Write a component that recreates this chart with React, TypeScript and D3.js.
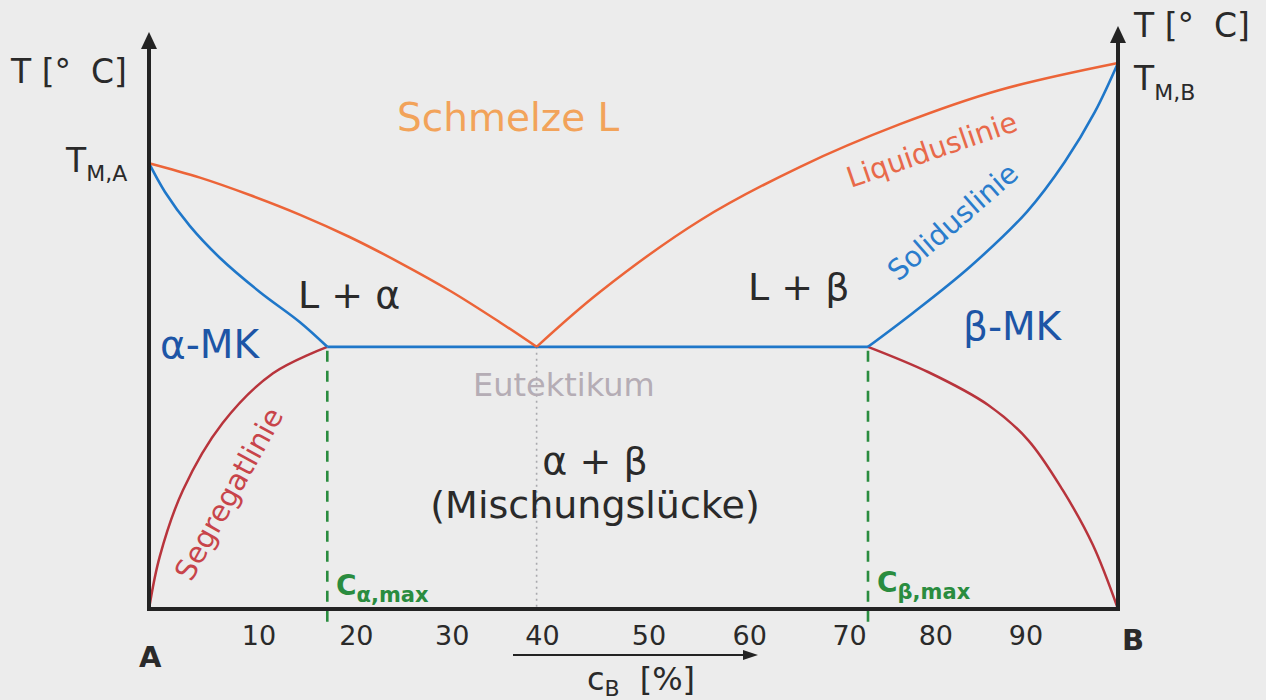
import React from 'react';
import * as d3 from 'd3';

// Binary eutectic phase diagram (schematic), composition c_B in %, temperature in arbitrary units.
const liquidusA_c = [0, 5.26, 10.4, 15.6, 20.7, 25.9, 31.1, 36.2, 40];
const liquidusA_T = [743, 719, 690, 657, 620, 577, 530, 478, 437];
const liquidusB_c = [40, 46.5, 56.9, 67.2, 77.5, 87.8, 100];
const liquidusB_T = [437, 528, 648, 737, 808, 865, 910];
const solidusA_c = [0, 1.65, 4.23, 7.33, 11.46, 15.58, 18.4];
const solidusA_T = [743, 695, 638, 585, 528, 478, 437];
const solidusB_c = [74.2, 78.8, 84.7, 90.6, 94.5, 97.6, 100];
const solidusB_T = [437, 493, 570, 662, 745, 828, 910];
const solvusA_c = [0, 1.1, 3.5, 7.6, 12.8, 18.4];
const solvusA_T = [0, 87, 198, 310, 393, 437];
const solvusB_c = [74.2, 80.4, 86.6, 90.7, 94.3, 97.4, 100];
const solvusB_T = [437, 395, 340, 282, 198, 107, 0];

const eutecticT = 437;
const eutecticC = 40;
const cAlphaMax = 18.4;
const cBetaMax = 74.2;

const tickLabels = ['10', '20', '30', '40', '50', '60', '70', '80', '90'];
// compositions at which the hand-set tick labels sit
const tickAt = [11.35, 21.4, 31.3, 40.6, 51.6, 62, 72.3, 81.2, 90.5];

const W = 1266;
const H = 700;
const FONT = '"DejaVu Sans", Verdana, sans-serif';

const x = d3.scaleLinear().domain([0, 100]).range([149, 1118]);
const y = d3.scaleLinear().domain([0, 1000]).range([609, 9]);

const zip = (cs: number[], ts: number[]) => cs.map((c, i) => [c, ts[i]] as [number, number]);
const line = d3
  .line<[number, number]>()
  .x((d) => x(d[0]))
  .y((d) => y(d[1]))
  .curve(d3.curveCatmullRom.alpha(0.5));

const C_LIQ = '#ec6438';
const C_SOL = '#1f77c9';
const C_SEG = '#b8343c';
const C_AXIS = '#232323';
const C_GREEN = '#2a8c3f';
const C_PHASE = '#1d55a6';
const C_TEXT = '#2a2a2a';

export default function App() {
  const x0 = x(0);
  const x1 = x(100);
  const yB = y(0);
  const yE = y(eutecticT);

  return (
    <svg
      width={W}
      height={H}
      viewBox={`0 0 ${W} ${H}`}
      style={{ position: 'absolute', left: 0, top: 0, display: 'block' }}
      fontFamily={FONT}
    >
      <rect x={0} y={0} width={W} height={H} fill="#ececec" />

      {/* guide lines at the eutectic and the maximum solubilities */}
      <line x1={x(eutecticC)} x2={x(eutecticC)} y1={yE} y2={yB} stroke="#a9a9ad" strokeWidth={1.6} strokeDasharray="2 4" />
      <line x1={x(cAlphaMax)} x2={x(cAlphaMax)} y1={yE + 4} y2={yB + 18} stroke={C_GREEN} strokeWidth={2.6} strokeDasharray="11 9" />
      <line x1={x(cBetaMax)} x2={x(cBetaMax)} y1={yE + 4} y2={yB + 18} stroke={C_GREEN} strokeWidth={2.6} strokeDasharray="11 9" />

      {/* phase boundaries */}
      <path d={line(zip(solvusA_c, solvusA_T)) || ''} fill="none" stroke={C_SEG} strokeWidth={2.5} />
      <path d={line(zip(solvusB_c, solvusB_T)) || ''} fill="none" stroke={C_SEG} strokeWidth={2.5} />
      <path
        d={line([[cAlphaMax, eutecticT], [cBetaMax, eutecticT]]) || ''}
        fill="none"
        stroke={C_SOL}
        strokeWidth={2.8}
      />
      <path d={line(zip(solidusA_c, solidusA_T)) || ''} fill="none" stroke={C_SOL} strokeWidth={2.6} />
      <path d={line(zip(solidusB_c, solidusB_T)) || ''} fill="none" stroke={C_SOL} strokeWidth={2.6} />
      <path d={line(zip(liquidusA_c, liquidusA_T)) || ''} fill="none" stroke={C_LIQ} strokeWidth={2.5} />
      <path d={line(zip(liquidusB_c, liquidusB_T)) || ''} fill="none" stroke={C_LIQ} strokeWidth={2.5} />

      {/* axes */}
      <line x1={x0} x2={x0} y1={yB + 2} y2={46} stroke={C_AXIS} strokeWidth={4} />
      <path d={`M${x0},32 L${x0 - 8},49 L${x0 + 8},49 Z`} fill={C_AXIS} />
      <line x1={x1} x2={x1} y1={yB + 2} y2={40} stroke={C_AXIS} strokeWidth={4} />
      <path d={`M${x1},26 L${x1 - 8},43 L${x1 + 8},43 Z`} fill={C_AXIS} />
      <line x1={x0 - 2} x2={x1 + 2} y1={yB} y2={yB} stroke={C_AXIS} strokeWidth={4} />

      {/* tick labels */}
      {tickLabels.map((t, i) => (
        <text key={t} x={x(tickAt[i])} y={645} fontSize={27} fill={C_TEXT} textAnchor="middle">
          {t}
        </text>
      ))}

      {/* composition arrow */}
      <line x1={513} x2={745} y1={655} y2={655} stroke={C_AXIS} strokeWidth={2.2} />
      <path d="M758,655 L743,650 L743,660 Z" fill={C_AXIS} />
      <text x={587} y={690} fontSize={32} fill={C_TEXT}>
        c<tspan fontSize={22} dy={6}>B</tspan>
        <tspan dy={-6} dx={20}>[%]</tspan>
      </text>

      <text x={139} y={667} fontSize={29} fontWeight="bold" fill={C_TEXT}>A</text>
      <text x={1122} y={650} fontSize={29} fontWeight="bold" fill={C_TEXT}>B</text>

      {/* temperature axis titles */}
      <text x={11} y={83} fontSize={33} fill={C_TEXT}>
        T [°<tspan dx={20}>C]</tspan>
      </text>
      <text x={1134} y={37} fontSize={33} fill={C_TEXT}>
        T [°<tspan dx={20}>C]</tspan>
      </text>
      <text x={66} y={172} fontSize={33} fill={C_TEXT}>
        T<tspan fontSize={22} dy={9}>M,A</tspan>
      </text>
      <text x={1134} y={90} fontSize={33} fill={C_TEXT}>
        T<tspan fontSize={22} dy={10}>M,B</tspan>
      </text>

      {/* region labels */}
      <text x={397} y={131} fontSize={39} fill="#f2a35a">Schmelze L</text>
      <text x={298} y={308} fontSize={38} fill={C_TEXT}>L + α</text>
      <text x={748} y={300} fontSize={38} fill={C_TEXT}>L + β</text>
      <text x={160} y={358} fontSize={39} fill={C_PHASE}>α-MK</text>
      <text x={963} y={340} fontSize={39} fill={C_PHASE}>β-MK</text>
      <text x={473} y={396} fontSize={32} fill="#b5adb5">Eutektikum</text>
      <text x={595} y={474} fontSize={38} fill={C_TEXT} textAnchor="middle">α + β</text>
      <text x={595} y={518} fontSize={38} fill={C_TEXT} textAnchor="middle">(Mischungslücke)</text>

      {/* line names */}
      <text
        transform="translate(229,494) rotate(-61)"
        fontSize={29}
        fill="#c8444a"
        textAnchor="middle"
        dominantBaseline="central"
      >
        Segregatlinie
      </text>
      <text
        transform="translate(932,150) rotate(-19)"
        fontSize={28.5}
        fill="#e8694a"
        textAnchor="middle"
        dominantBaseline="central"
      >
        Liquiduslinie
      </text>
      <text
        transform="translate(953,222) rotate(-41)"
        fontSize={28.5}
        fill="#2a7ccc"
        textAnchor="middle"
        dominantBaseline="central"
      >
        Soliduslinie
      </text>

      {/* solubility limit labels */}
      <text x={336} y={595} fontSize={28} fontWeight="bold" fill={C_GREEN}>
        C<tspan fontSize={21} dy={7}>α,max</tspan>
      </text>
      <text x={877} y={592} fontSize={28} fontWeight="bold" fill={C_GREEN}>
        C<tspan fontSize={21} dy={7}>β,max</tspan>
      </text>
    </svg>
  );
}
